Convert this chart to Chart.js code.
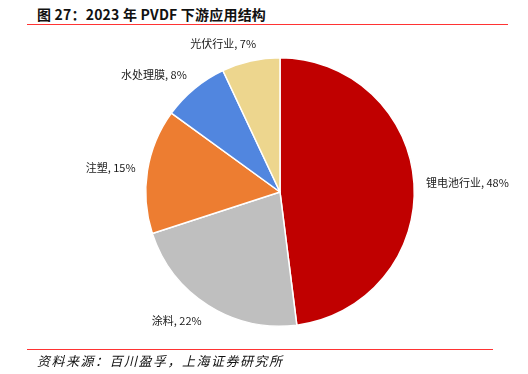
<!DOCTYPE html>
<html lang="zh">
<head>
<meta charset="utf-8">
<script src="https://cdn.jsdelivr.net/npm/chart.js@4"></script>
<style>
  html, body { margin: 0; padding: 0; background: #fff; }
  body { width: 528px; height: 374px; position: relative; overflow: hidden; font-family: "Noto Sans CJK SC", "Noto Sans", sans-serif; }
  #titulo { position: absolute; left: 37px; top: 4px; font-size: 14px; font-weight: bold; color: #111; white-space: nowrap; letter-spacing: 0.2px; }
  #linea-top { position: absolute; left: 27px; top: 24px; width: 481px; height: 1px; background: #ff3333; }
  #linea-bot { position: absolute; left: 27px; top: 349px; width: 466px; height: 1px; background: #ff3333; }
  #fuente { position: absolute; left: 37px; top: 351px; font-size: 13px; font-style: italic; color: #111; white-space: nowrap; letter-spacing: 1.5px; }
  #grafico { position: absolute; left: 0; top: 0; }
</style>
</head>
<body>
<div id="titulo">图 27：2023 年 PVDF 下游应用结构</div>
<div id="linea-top"></div>
<canvas id="grafico" width="528" height="374"></canvas>
<div id="linea-bot"></div>
<div id="fuente">资料来源：百川盈孚，上海证券研究所</div>
<script>
// datos del gráfico
const categorias = ['锂电池行业', '涂料', '注塑', '水处理膜', '光伏行业'];
const valores = [48, 22, 15, 8, 7];
const colores = ['#c00000', '#bfbfbf', '#ed7d31', '#5186df', '#edd68e'];

// etiquetas fuera del pastel: "nombre, xx%"
const etiquetas = {
  id: 'etiquetas',
  afterDatasetsDraw(chart) {
    const ctx = chart.ctx;
    const meta = chart.getDatasetMeta(0);
    ctx.save();
    ctx.font = '11px "Noto Sans CJK SC", sans-serif';
    ctx.fillStyle = '#1a1a1a';
    ctx.textBaseline = 'middle';
    meta.data.forEach((arc, i) => {
      const p = arc.getProps(['x', 'y', 'startAngle', 'endAngle', 'outerRadius'], true);
      const mid = (p.startAngle + p.endAngle) / 2;
      const dx = Math.cos(mid);
      const dy = Math.sin(mid);
      const r = p.outerRadius + 12;
      const ax = p.x + dx * r;
      const ay = p.y + dy * r;
      const texto = categorias[i] + ', ' + valores[i] + '%';
      ctx.textAlign = dx >= 0 ? 'left' : 'right';
      // etiquetas casi verticales se corren un poco hacia el centro
      const corr = Math.abs(dx) < 0.3 ? 8 : 0;
      ctx.fillText(texto, ax + corr, ay + dy * 6);
    });
    ctx.restore();
  }
};

const ctx = document.getElementById('grafico').getContext('2d');
new Chart(ctx, {
  type: 'pie',
  data: {
    labels: categorias,
    datasets: [{
      data: valores,
      backgroundColor: colores,
      borderColor: '#ffffff',
      borderWidth: 1.5
    }]
  },
  options: {
    responsive: false,
    animation: false,
    layout: { padding: { left: 145, top: 57, right: 113, bottom: 47 } },
    plugins: {
      legend: { display: false },
      tooltip: { enabled: false }
    }
  },
  plugins: [etiquetas]
});
</script>
</body>
</html>
